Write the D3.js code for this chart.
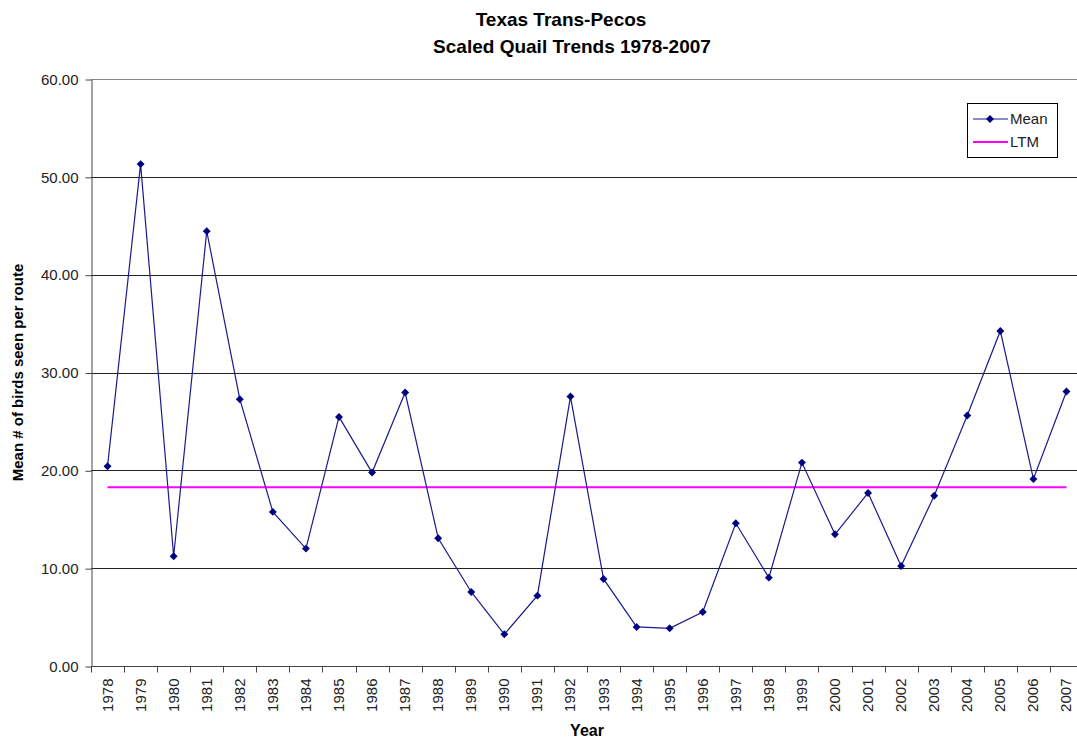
<!DOCTYPE html>
<html>
<head>
<meta charset="utf-8">
<script src="https://cdn.jsdelivr.net/npm/d3@7"></script>
<style>
  body { margin: 0; background: #fff; overflow: hidden; }
  text { font-family: "Liberation Sans", Arial, sans-serif; }
</style>
</head>
<body>
<script>
// chart data
let years = [1978, 1979, 1980, 1981, 1982, 1983, 1984, 1985, 1986, 1987,
  1988, 1989, 1990, 1991, 1992, 1993, 1994, 1995, 1996, 1997,
  1998, 1999, 2000, 2001, 2002, 2003, 2004, 2005, 2006, 2007];
let meanValues = [20.42, 51.3, 11.22, 44.45, 27.27, 15.75, 12.0, 25.46, 19.77, 27.95,
  13.06, 7.57, 3.24, 7.19, 27.54, 8.9, 3.99, 3.85, 5.52, 14.59,
  9.03, 20.79, 13.46, 17.69, 10.22, 17.41, 25.6, 34.25, 19.12, 28.05];
let ltmValue = 18.27;
let yTicks = [0, 10, 20, 30, 40, 50, 60];
let seriesNames = ["Mean", "LTM"];

//set up size and margin
let width = 1077, height = 741;
let margin = { top: 79, right: -6, bottom: 75, left: 91 };

let svg = d3.select("body").append("svg")
  .attr("width", width)
  .attr("height", height);

let xScale = d3.scaleBand()
  .domain(years)
  .range([margin.left, width - margin.right])
  .padding(0);

let yScale = d3.scaleLinear()
  .domain([0, 60])
  .range([height - margin.bottom, margin.top]);

let xMid = d => xScale(d) + xScale.bandwidth() / 2;

//gridlines
svg.append("g").selectAll("line")
  .data(yTicks.filter(d => d > 0))
  .enter().append("line")
  .attr("x1", margin.left)
  .attr("x2", width - margin.right)
  .attr("y1", d => Math.round(yScale(d)) + 0.5)
  .attr("y2", d => Math.round(yScale(d)) + 0.5)
  .attr("stroke", d => d === 60 ? "#888" : "#222")
  .attr("stroke-width", 1);

//y axis
let yAxis = d3.axisLeft(yScale)
  .tickValues(yTicks)
  .tickFormat(d3.format(".2f"))
  .tickSize(6)
  .tickPadding(7)
  .tickSizeOuter(0);

let gy = svg.append("g")
  .attr("transform", "translate(" + (margin.left + 0.5) + ",0.5)")
  .call(yAxis);
gy.select(".domain").attr("stroke", "#444");
gy.selectAll(".tick line").attr("stroke", "#444");
gy.selectAll(".tick text")
  .attr("fill", "#222")
  .style("font-size", "15px")
  .style("font-family", "'Liberation Sans', Arial, sans-serif");

//x axis line and boundary ticks
let xBase = Math.round(yScale(0)) + 0.5;
svg.append("line")
  .attr("x1", margin.left)
  .attr("x2", width - margin.right)
  .attr("y1", xBase).attr("y2", xBase)
  .attr("stroke", "#444");

let bounds = years.map(d => xScale(d)).concat([xScale.range()[1]]);
svg.append("g").selectAll("line")
  .data(bounds)
  .enter().append("line")
  .attr("x1", d => Math.round(d) + 0.5)
  .attr("x2", d => Math.round(d) + 0.5)
  .attr("y1", xBase)
  .attr("y2", xBase + 6)
  .attr("stroke", "#444");

//x labels, rotated
svg.append("g").selectAll("text")
  .data(years)
  .enter().append("text")
  .attr("transform", d => "translate(" + (xMid(d) + 5) + "," + (xBase + 12) + ") rotate(-90)")
  .attr("text-anchor", "end")
  .attr("fill", "#222")
  .style("font-size", "15px")
  .text(d => d);

//axis titles
svg.append("text")
  .attr("x", 587)
  .attr("y", 736)
  .attr("text-anchor", "middle")
  .style("font-size", "16px")
  .style("font-weight", "bold")
  .text("Year");

svg.append("text")
  .attr("transform", "translate(23," + (margin.top + (height - margin.bottom - margin.top) / 2) + ") rotate(-90)")
  .attr("text-anchor", "middle")
  .style("font-size", "15px")
  .style("font-weight", "bold")
  .text("Mean # of birds seen per route");

//title
let title = svg.append("text")
  .attr("x", 561)
  .attr("text-anchor", "middle")
  .style("font-size", "19px")
  .style("font-weight", "bold");
title.append("tspan").attr("x", 561).attr("y", 26).text("Texas Trans-Pecos");
title.append("tspan").attr("x", 572).attr("y", 53).text("Scaled Quail Trends 1978-2007");

//LTM line
svg.append("line")
  .attr("x1", xMid(years[0]))
  .attr("x2", xMid(years[years.length - 1]))
  .attr("y1", yScale(ltmValue))
  .attr("y2", yScale(ltmValue))
  .attr("stroke", "#ff00ff")
  .attr("stroke-width", 2);

//mean line
let line = d3.line()
  .x((d, i) => xMid(years[i]))
  .y(d => yScale(d));

svg.append("path")
  .datum(meanValues)
  .attr("d", line)
  .attr("fill", "none")
  .attr("stroke", "#1a1a8c")
  .attr("stroke-width", 1.2);

let diamond = d3.symbol().type(d3.symbolDiamond2).size(40);
svg.append("g").selectAll("path")
  .data(meanValues)
  .enter().append("path")
  .attr("d", diamond)
  .attr("transform", (d, i) => "translate(" + xMid(years[i]) + "," + yScale(d) + ")")
  .attr("fill", "#000080");

//legend
let legend = svg.append("g").attr("transform", "translate(967,103)");
legend.append("rect")
  .attr("x", 0.5).attr("y", 0.5)
  .attr("width", 90).attr("height", 54)
  .attr("fill", "#fff")
  .attr("stroke", "#000");

legend.append("line")
  .attr("x1", 6).attr("x2", 41).attr("y1", 16).attr("y2", 16)
  .attr("stroke", "#1a1a8c").attr("stroke-width", 1.2);
legend.append("path")
  .attr("d", diamond)
  .attr("transform", "translate(23,16)")
  .attr("fill", "#000080");
legend.append("line")
  .attr("x1", 6).attr("x2", 41).attr("y1", 39).attr("y2", 39)
  .attr("stroke", "#ff00ff").attr("stroke-width", 2);

legend.selectAll(".legend-label")
  .data(seriesNames)
  .enter().append("text")
  .attr("class", "legend-label")
  .attr("x", 43)
  .attr("y", (d, i) => 21 + i * 23)
  .style("font-size", "15px")
  .attr("fill", "#222")
  .text(d => d);
</script>
</body>
</html>
